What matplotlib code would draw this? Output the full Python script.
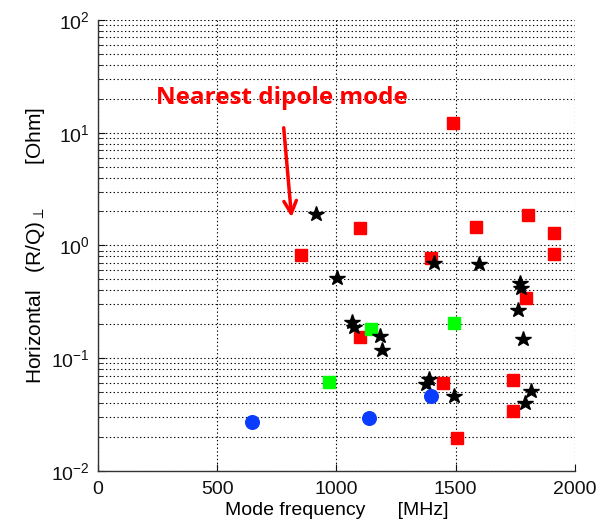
import numpy as np
import matplotlib
matplotlib.use("Agg")
import matplotlib.pyplot as plt
from matplotlib.ticker import LogLocator, NullFormatter

plt.rcParams['font.family'] = ['Liberation Sans', 'DejaVu Sans']
plt.rcParams['mathtext.default'] = 'regular'

# --- modes, frequency [MHz] and (R/Q) [Ohm] ---
red_freq = [852, 1488, 1099, 1585, 1801, 1910, 1914, 1397, 1794, 1099, 1446, 1742, 1738, 1507]
red_rq = [0.82, 12.1, 1.42, 1.47, 1.87, 1.28, 0.84, 0.77, 0.34, 0.155, 0.060, 0.064, 0.034, 0.0195]

green_freq = [969, 1144, 1492]
green_rq = [0.061, 0.18, 0.204]

blue_freq = [645, 1137, 1397]
blue_rq = [0.027, 0.0297, 0.0466]

star_freq = [915, 1002, 1065, 1075, 1183, 1193, 1411, 1597, 1389, 1376, 1493,
             1770, 1772, 1760, 1780, 1816, 1791]
star_rq = [1.90, 0.51, 0.21, 0.19, 0.158, 0.118, 0.705, 0.685, 0.066, 0.059, 0.046,
           0.46, 0.42, 0.27, 0.147, 0.0515, 0.0398]

xticks = [0, 500, 1000, 1500, 2000]

fig = plt.figure(figsize=(6.04, 5.25), dpi=100)
ax = fig.add_axes([0.162, 0.103, 0.790, 0.859])

ax.plot(red_freq, red_rq, 's', color='#ff0000', ms=8.7, mec='#ff0000', zorder=3)
ax.plot(green_freq, green_rq, 's', color='#00ff00', ms=8.7, mec='#00ff00', zorder=3)
ax.plot(star_freq, star_rq, '*', color='black', ms=11.5, zorder=4)
ax.plot(blue_freq, blue_rq, 'o', color='#0a3cff', ms=9.8, mec='#0a3cff', zorder=5)

ax.set_yscale('log')
ax.set_xlim(0, 2000)
ax.set_ylim(1e-2, 1e2)
ax.set_xticks(xticks)
ax.yaxis.set_major_locator(LogLocator(base=10, numticks=10))
ax.yaxis.set_minor_locator(LogLocator(base=10, subs=np.arange(2, 10), numticks=20))
ax.yaxis.set_minor_formatter(NullFormatter())

# dotted grid, major + minor on y
grid_style = dict(color='black', linestyle=(0, (1.2, 2.2)), linewidth=0.8)
ax.grid(True, which='major', axis='both', **grid_style)
ax.grid(True, which='minor', axis='y', **grid_style)
ax.set_axisbelow(True)

for side in ['top', 'right']:
    ax.spines[side].set_visible(False)
for side in ['left', 'bottom']:
    ax.spines[side].set_color('#333333')
    ax.spines[side].set_linewidth(1.0)

ax.tick_params(which='both', direction='in', labelsize=14, colors='#111111')
ax.tick_params(axis='x', pad=7)
ax.tick_params(axis='y', pad=6)
ax.tick_params(which='major', length=5)
ax.tick_params(which='minor', length=3)

ax.set_xlabel('Mode frequency      [MHz]', fontsize=14, labelpad=3)
ax.set_ylabel(r'Horizontal   (R/Q)$_{\perp}$       [Ohm]', fontsize=15, labelpad=3)

# annotation
ax.text(772, 20.3, 'Nearest dipole mode', color='#ff0000', fontsize=17.5,
        fontweight='bold', family='Open Sans', ha='center', va='center')
ax.annotate('', xy=(813, 1.68), xytext=(778, 11.7),
            arrowprops=dict(arrowstyle='->,head_length=0.9,head_width=0.45',
                            color='#ff0000', lw=2.5))

fig.savefig('out.png', dpi=100)
